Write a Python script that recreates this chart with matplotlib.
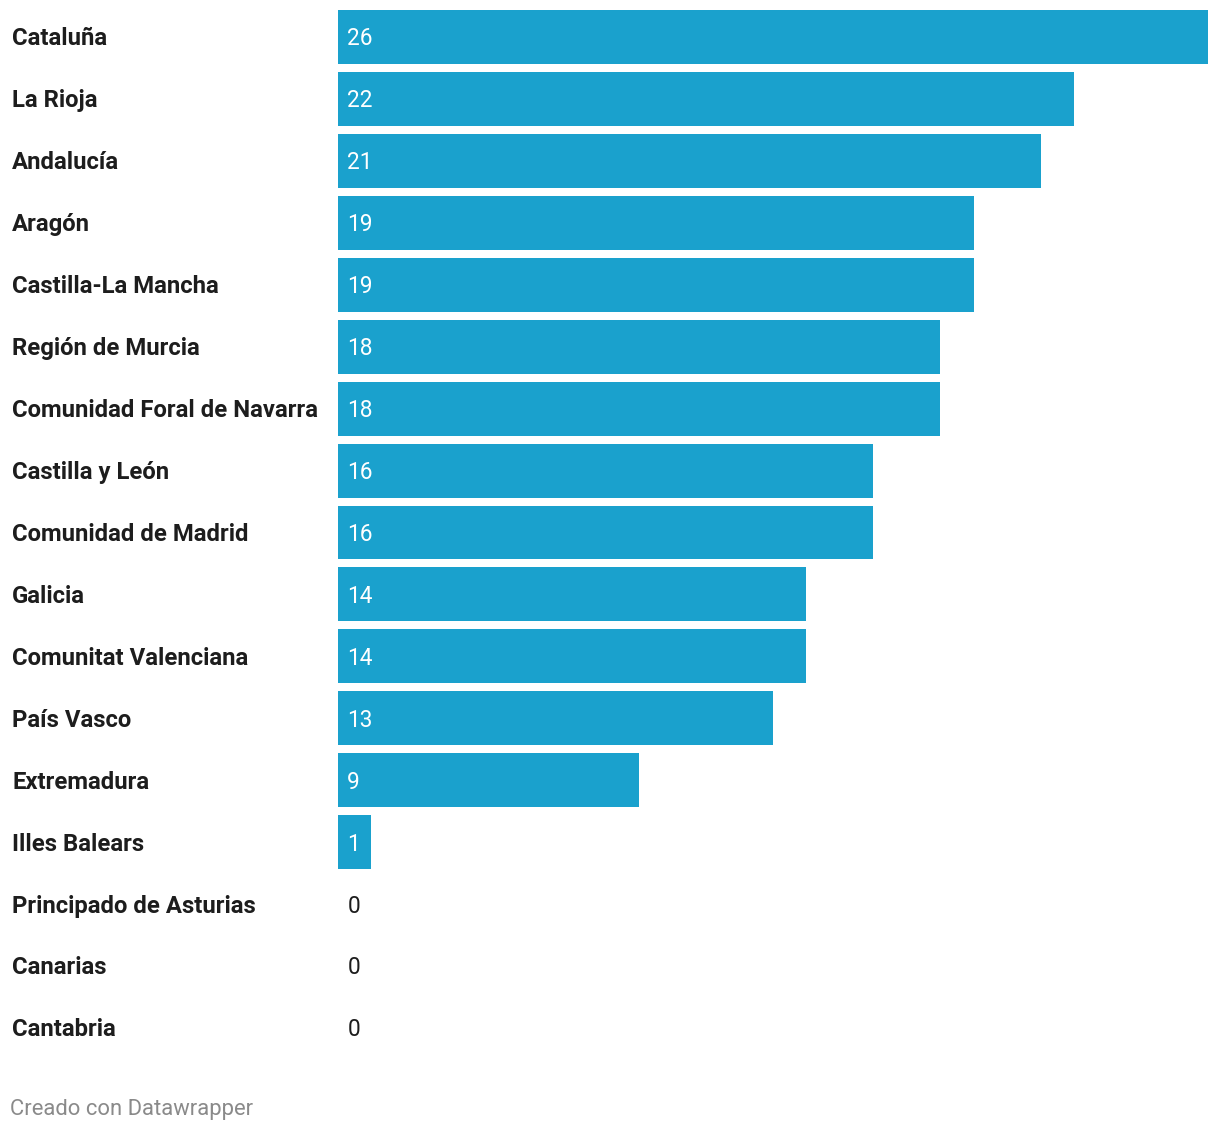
import matplotlib.pyplot as plt
from matplotlib.transforms import blended_transform_factory

plt.rcParams['font.family'] = ['Roboto', 'DejaVu Sans']

regions = ['Cataluña', 'La Rioja', 'Andalucía', 'Aragón', 'Castilla-La Mancha',
           'Región de Murcia', 'Comunidad Foral de Navarra', 'Castilla y León',
           'Comunidad de Madrid', 'Galicia', 'Comunitat Valenciana', 'País Vasco',
           'Extremadura', 'Illes Balears', 'Principado de Asturias', 'Canarias',
           'Cantabria']
values = [26, 22, 21, 19, 19, 18, 18, 16, 16, 14, 14, 13, 9, 1, 0, 0, 0]

W, H = 1220, 1132
fig = plt.figure(figsize=(W / 100, H / 100), dpi=100)
ax = fig.add_axes([338 / W, 1 - 1059 / H, 870 / W, 1053 / H])

ypos = list(range(len(regions)))
ax.barh(ypos, values, height=0.87, color='#1aa1cd')
ax.set_xlim(0, max(values))
ax.set_ylim(len(regions) - 0.5, -0.5)
ax.axis('off')

trans = blended_transform_factory(fig.transFigure, ax.transData)
for y, name, v in zip(ypos, regions, values):
    ax.text(12 / W, y + 0.03, name, transform=trans, ha='left', va='center',
            fontsize=17.2, fontweight='bold', color='#1d1d1d')
    ax.text(0.28, y + 0.03, str(v), ha='left', va='center', fontsize=16.3,
            color='white' if v > 0 else '#1d1d1d')

fig.text(10 / W, 1 - 1110 / H, 'Creado con Datawrapper', ha='left', va='center',
         fontsize=15.8, color='#8a8a8a')

fig.savefig('out.png', dpi=100)
